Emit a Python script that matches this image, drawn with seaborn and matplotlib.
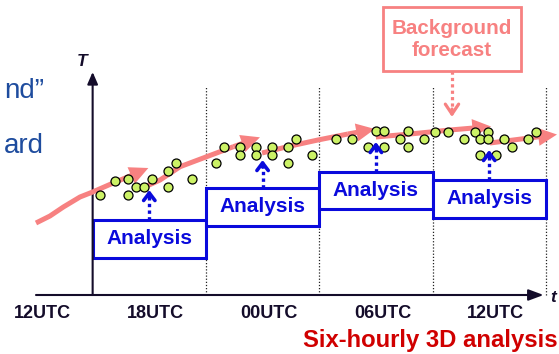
import matplotlib
matplotlib.use("Agg")
import matplotlib.pyplot as plt
import seaborn as sns
from matplotlib.patches import Rectangle
from matplotlib.transforms import ScaledTranslation

# ---- data -------------------------------------------------------------
# time axis in hours after 12UTC of day 1
utc_hours = [0, 6, 12, 18, 24]
utc_labels = ["12UTC", "18UTC", "00UTC", "06UTC", "12UTC"]
window_edges = [9, 15, 21, 27]

# analysis times, box tops and where each analysis arrow points
analysis_hours = [6, 12, 18, 24]
analysis_box_top = [7.5, 10.7, 12.35, 11.5]
analysis_tip = [10.5, 13.5, 15.3, 14.5]

# observations (hour, temperature)
obs_hours = [3.39, 4.20, 4.89, 4.89, 5.30, 5.72, 6.14, 6.99, 7.41, 6.99, 8.26,
             9.53, 9.96, 10.80, 10.80, 11.65, 11.65, 12.48, 12.48, 13.35, 13.77, 13.35, 14.60,
             15.89, 16.72, 17.57, 18.01, 18.45, 18.45, 19.28, 19.70, 19.70, 20.55,
             21.13, 21.83, 22.67, 23.25, 23.51, 23.95, 23.95, 23.51, 24.36, 24.78, 25.21, 26.05, 26.47]
obs_temp = [10.0, 11.4, 11.6, 10.0, 10.8, 10.8, 11.65, 12.4, 13.2, 10.8, 11.6,
            13.2, 14.8, 14.8, 14.0, 14.8, 14.0, 14.8, 14.0, 14.8, 15.6, 13.2, 14.0,
            15.6, 15.6, 14.8, 16.4, 16.4, 14.8, 15.6, 16.4, 14.8, 15.6,
            16.3, 16.35, 15.6, 16.3, 15.6, 16.35, 15.6, 14.05, 14.05, 15.6, 14.8, 15.6, 16.35]

# background forecast trajectories (last point = arrow tip)
bg_hours = [
    [0.0, 0.74, 1.45, 2.33, 3.0, 4.09, 4.98, 5.95],
    [5.93, 6.57, 7.63, 9.04, 10.45, 11.86],
    [11.97, 13.35, 14.93, 16.52, 17.95],
    [18.0, 19.81, 21.92, 24.1],
    [24.04, 25.9, 27.59],
]
bg_temp = [
    [7.2, 7.9, 8.8, 9.8, 10.3, 11.2, 11.9, 12.7],
    [10.95, 11.5, 12.83, 13.83, 14.83, 15.77],
    [14.2, 14.85, 15.5, 16.1, 16.6],
    [15.8, 16.1, 16.5, 16.85],
    [15.2, 15.65, 16.05],
]

# ---- style --------------------------------------------------------------
sns.set_theme(style="white")
plt.rcParams["font.family"] = ["Liberation Sans", "DejaVu Sans"]

AXIS = "#140c2a"
PINK = "#F78181"
BLUE = "#0A0ADC"
DOT = "#CCF266"
RED = "#D00000"
SLIDE_BLUE = "#1E4C9E"

fig = plt.figure(figsize=(5.59, 3.54), dpi=100)
ax = fig.add_axes([0, 0, 1, 1])
ax.set_xlim(-1.906, 27.697)
ax.set_ylim(-5.9, 29.5)
for side in ["top", "right", "left"]:
    ax.spines[side].set_visible(False)
ax.spines["bottom"].set_position(("data", 0))
ax.spines["bottom"].set_visible(False)
ax.set_yticks([])
ax.set_xticks(utc_hours, utc_labels)
ax.tick_params(axis="x", direction="in", length=5.8, width=1.5, pad=7,
               labelsize=13, colors=AXIS)
for lbl in ax.get_xticklabels():
    lbl.set_fontweight("bold")
    lbl.set_transform(lbl.get_transform() + ScaledTranslation(6.5 / 100, 0, fig.dpi_scale_trans))

# axes arrows
ax.annotate("", xy=(26.88, 0), xytext=(0, 0),
            arrowprops=dict(arrowstyle="-|>,head_length=0.75,head_width=0.28",
                            lw=1.5, color=AXIS, shrinkA=0, shrinkB=0))
ax.annotate("", xy=(3, 22.3), xytext=(3, 0),
            arrowprops=dict(arrowstyle="-|>,head_length=0.6,head_width=0.26",
                            lw=1.5, color=AXIS, shrinkA=0, shrinkB=0))
ax.text(2.46, 23.4, "T", fontsize=12.5, fontweight="bold", fontstyle="italic",
        color=AXIS, ha="center", va="center")
ax.text(27.4, -0.27, "t", fontsize=12.5, fontweight="bold", fontstyle="italic",
        color=AXIS, ha="center", va="center")

# assimilation window separators
ax.vlines(window_edges, 0, 20.9, colors="#222222", lw=0.9, linestyles=(0, (1, 1.5)), zorder=1)

# analysis boxes
box_h = 3.75
for h, top in zip(analysis_hours, analysis_box_top):
    ax.add_patch(Rectangle((h - 3, top - box_h), 6, box_h, facecolor="white",
                           edgecolor=BLUE, lw=2.2, zorder=2))
    ax.text(h, top - box_h / 2, "Analysis", fontsize=15, fontweight="bold",
            color=BLUE, ha="center", va="center", zorder=3)

# background forecast trajectories with filled arrow heads
for hs, ts in zip(bg_hours, bg_temp):
    sns.lineplot(x=hs[:-1], y=ts[:-1], ax=ax, color=PINK, lw=3.6, sort=False,
                 estimator=None, solid_capstyle="butt", zorder=3)
    ax.annotate("", xy=(hs[-1], ts[-1]), xytext=(hs[-2], ts[-2]),
                arrowprops=dict(arrowstyle="simple,head_length=1.35,head_width=1.3,tail_width=0.36",
                                lw=0, fc=PINK, ec="none", shrinkA=0, shrinkB=0,
                                mutation_scale=10),
                zorder=3)

# observations
sns.scatterplot(x=obs_hours, y=obs_temp, ax=ax, s=42, color=DOT,
                edgecolor="black", linewidth=0.9, zorder=4)

# analysis increments pointing up from each box
for h, top, tip in zip(analysis_hours, analysis_box_top, analysis_tip):
    ax.plot([h, h], [top, tip - 0.5], color=BLUE, lw=2.4, ls=(0, (1, 1)), zorder=5)
    ax.annotate("", xy=(h, tip), xytext=(h, tip - 0.7),
                arrowprops=dict(arrowstyle="->,head_length=0.45,head_width=0.34",
                                lw=2.6, color=BLUE, shrinkA=0, shrinkB=0),
                zorder=5)

# background forecast callout
ax.add_patch(Rectangle((18.36, 22.4), 7.31, 6.43, facecolor="white",
                       edgecolor=PINK, lw=2.0, zorder=2))
ax.text(22.0, 25.55, "Background\nforecast", fontsize=14.9, fontweight="bold",
        color=PINK, ha="center", va="center", linespacing=1.25, zorder=3)
ax.plot([22.03, 22.03], [22.4, 18.4], color=PINK, lw=2.3, ls=(0, (1, 1)), zorder=3)
ax.annotate("", xy=(22.03, 17.8), xytext=(22.03, 18.6),
            arrowprops=dict(arrowstyle="->,head_length=0.6,head_width=0.4",
                            lw=2.3, color=PINK, shrinkA=0, shrinkB=0), zorder=3)

# slide text fragments at the left edge
ax.text(0.42, 19.67, "nd\u201d", fontsize=20, color=SLIDE_BLUE,
        ha="right", va="baseline")
ax.text(0.42, 14.17, "ard", fontsize=20, color=SLIDE_BLUE,
        ha="right", va="baseline")

ax.text(14.14, -5.17, "Six-hourly 3D analysis", fontsize=17.2, fontweight="bold",
        color=RED, ha="left", va="baseline")

fig.savefig("out.png", dpi=100)
